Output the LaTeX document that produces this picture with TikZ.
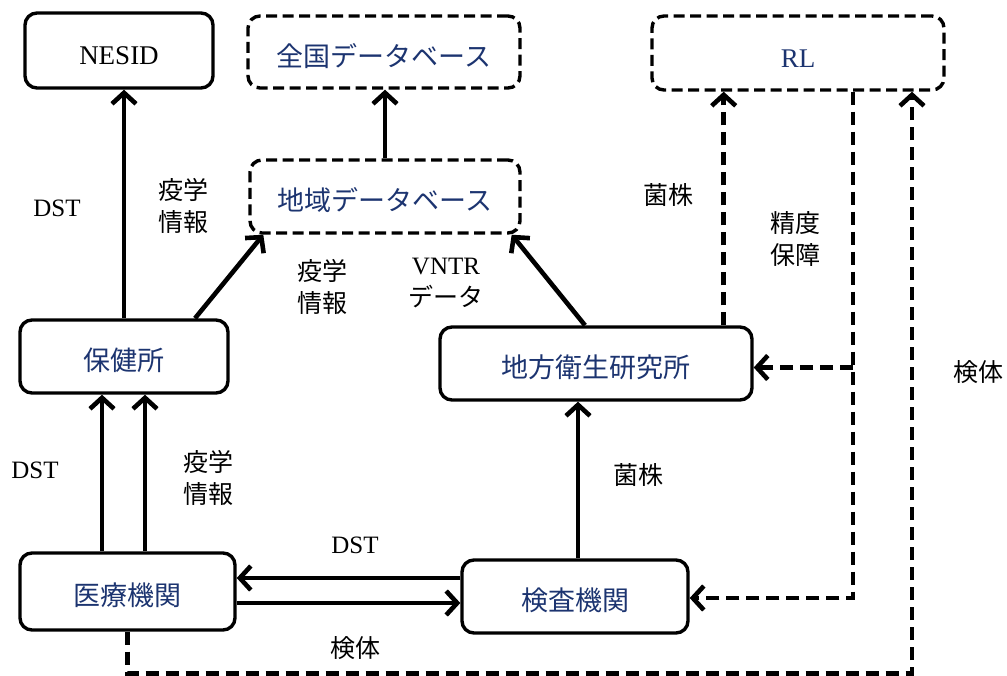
\documentclass[tikz,border=0pt]{standalone}
\usepackage{fontspec}
\usepackage{xcolor}
\usetikzlibrary{arrows.meta}
\setmainfont{Liberation Serif}
\newfontfamily\jp{Noto Sans CJK JP}
\definecolor{navy}{RGB}{28,52,112}

\tikzset{
    box/.style={draw, rounded corners=6pt, line width=1.7pt, inner sep=0pt, text=navy,
        text height=16pt, text depth=1.6pt, font=\fontsize{13.5}{16}\selectfont},
    dbox/.style={box, dash pattern=on 5.5pt off 2.75pt},
    arr/.style={-{Straight Barb[length=5.5pt,width=12pt]}, line width=2.3pt},
    darr/.style={arr, dash pattern=on 6.5pt off 3.5pt},
    lab/.style={align=center, font=\fontsize{12.5}{16}\selectfont},
}

\begin{document}
\begin{tikzpicture}[x=0.5pt, y=-0.5pt]
    \useasboundingbox (0,0) rectangle (1007,675);

    % Boxes
    \node[box, text=black, minimum width=94pt, minimum height=37.5pt] (nesid) at (119, 50.5) {NESID};
    \node[dbox, minimum width=136pt, minimum height=36pt] (zenkoku) at (384, 52) {\jp 全国データベース};
    \node[dbox, minimum width=135pt, minimum height=36.5pt] (chiiki) at (385, 196.5) {\jp 地域データベース};
    \node[dbox, minimum width=146pt, minimum height=37pt] (rl) at (798, 53) {RL};
    \node[box, minimum width=104pt, minimum height=36.5pt] (hokenjo) at (124, 356.5) {\jp 保健所};
    \node[box, minimum width=156pt, minimum height=36.5pt] (chieiken) at (596, 363.5) {\jp 地方衛生研究所};
    \node[box, minimum width=107.5pt, minimum height=38.5pt] (iryo) at (127.5, 591.5) {\jp 医療機関};
    \node[box, minimum width=113pt, minimum height=36.5pt] (kensa) at (575, 596.5) {\jp 検査機関};

    % Solid connections
    \draw[arr] (hokenjo.north) -- (hokenjo.north |- nesid.south);
    \draw[arr] ([xshift=35.5pt]hokenjo.north) -- ([xshift=7.5pt]chiiki.south west);
    \draw[arr] (chiiki.north) -- (chiiki.north |- zenkoku.south);
    \draw[arr] ([xshift=-5.5pt]chieiken.north) -- ([xshift=-5pt]chiiki.south east);
    \draw[arr] ([xshift=-12.75pt]iryo.north) -- ([xshift=-12.75pt]iryo.north |- hokenjo.south);
    \draw[arr] ([xshift=8.75pt]iryo.north) -- ([xshift=8.75pt]iryo.north |- hokenjo.south);
    \draw[arr] ([yshift=9.25pt]kensa.west) -- ([yshift=9.25pt]kensa.west -| iryo.east);
    \draw[arr] ([yshift=-5.75pt]iryo.east) -- ([yshift=-5.75pt]iryo.east -| kensa.west);
    \draw[arr] ([xshift=1.5pt]kensa.north) -- ([xshift=1.5pt]kensa.north |- chieiken.south);

    % Dashed connections
    \coordinate (rlout) at ([xshift=27.5pt]rl.south);
    \draw[darr] ([xshift=-15pt]chieiken.north east) -- ([xshift=-15pt]chieiken.north east |- rl.south);
    \draw[darr] (rlout) |- ([yshift=-0.75pt]kensa.east);
    \draw[darr] ([yshift=-2pt]chieiken.east -| rlout) -- ([yshift=-2pt]chieiken.east);
    \draw[darr] (iryo.south) -- ++(0,42) -| ([xshift=57pt]rl.south);

    % Labels
    \node[lab] (l1) at (57, 208) {DST};
    \node[lab] (l2) at (183, 206) {\jp 疫学\\\jp 情報};
    \node[lab] (l3) at (322, 287) {\jp 疫学\\\jp 情報};
    \node[lab] (l4) at (446, 283) {VNTR\\\jp データ};
    \node[lab] (l5) at (668, 195) {\jp 菌株};
    \node[lab] (l6) at (795, 239) {\jp 精度\\\jp 保障};
    \node[lab] (l7) at (35, 470) {DST};
    \node[lab] (l8) at (208, 478) {\jp 疫学\\\jp 情報};
    \node[lab] (l9) at (638, 475) {\jp 菌株};
    \node[lab] (l10) at (978, 372) {\jp 検体};
    \node[lab] (l11) at (355, 545) {DST};
    \node[lab] (l12) at (355, 648) {\jp 検体};
\end{tikzpicture}
\end{document}
